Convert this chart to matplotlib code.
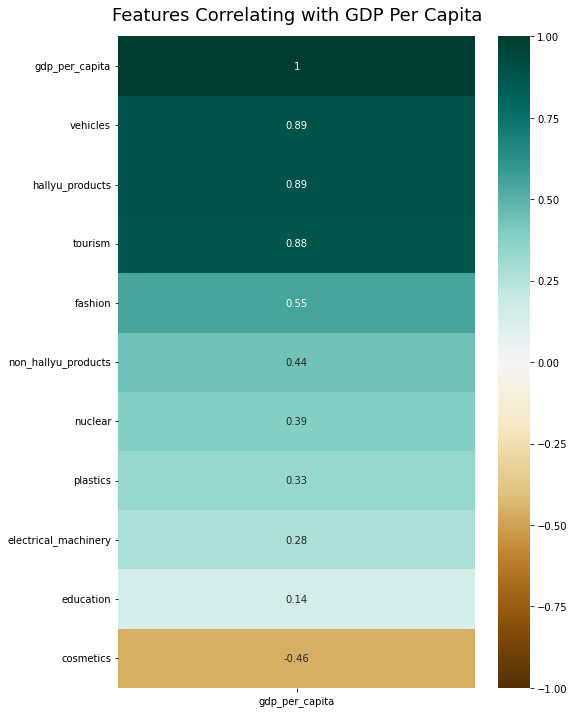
import matplotlib
matplotlib.use("Agg")
import matplotlib.pyplot as plt
import seaborn as sns
import pandas as pd

features = ['gdp_per_capita', 'vehicles', 'hallyu_products', 'tourism', 'fashion',
            'non_hallyu_products', 'nuclear', 'plastics', 'electrical_machinery',
            'education', 'cosmetics']
corr_values = [1.0, 0.89, 0.89, 0.88, 0.55, 0.44, 0.39, 0.33, 0.28, 0.14, -0.46]

corr = pd.DataFrame({'gdp_per_capita': corr_values}, index=features)

plt.figure(figsize=(8, 11.75), dpi=72)
heatmap = sns.heatmap(corr, vmin=-1, vmax=1, annot=True, cmap='BrBG')
heatmap.set_title('Features Correlating with GDP Per Capita', fontdict={'fontsize': 18}, pad=16)
plt.savefig('out.png', dpi=72, bbox_inches='tight')
